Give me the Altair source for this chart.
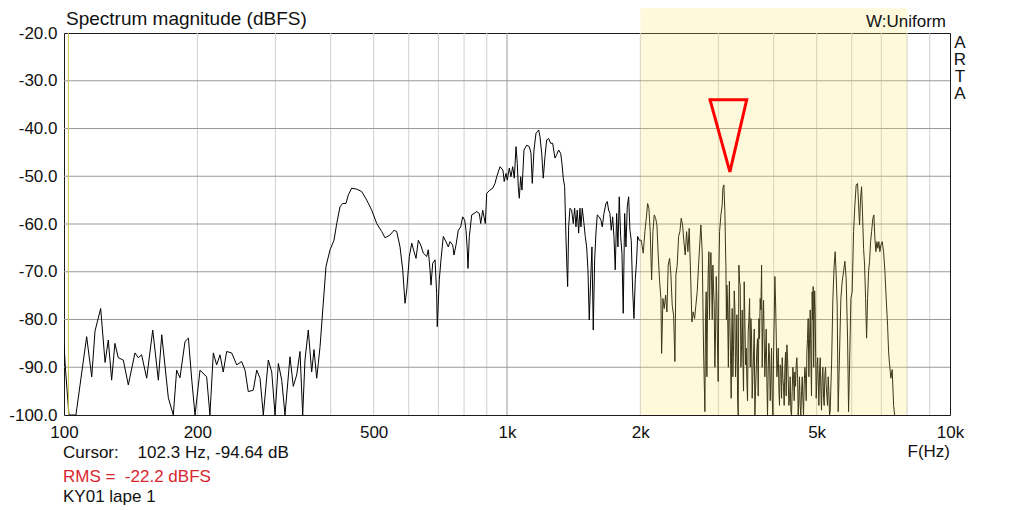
import altair as alt
import pandas as pd

# ---- spectrum values: (frequency Hz, level dBFS) ----
seg_low = [
    (100, -85.3), (100.8, -90.6), (102.6, -100), (106.4, -100), (112.5, -83.6), (115.5, -92.0),
    (117.5, -82.4), (121.0, -77.7), (123.8, -89.0), (125.9, -84.3), (128.1, -92.7), (130.3, -85.0),
    (132.6, -88.0), (136.1, -88.5), (139.7, -93.7), (144.6, -87.0), (147.1, -88.0), (149.7, -87.4),
    (153.7, -92.3), (158.6, -82.2), (163.3, -92.7), (166.2, -83.2), (172.0, -96.4), (176.5, -100),
    (179.6, -90.6), (182.7, -92.2), (187.6, -84.6), (190.9, -83.9), (194.3, -92.7), (197.6, -100),
    (202.8, -90.6), (209.9, -92.0), (213.5, -100), (217.3, -87.0), (221.1, -89.5), (225.0, -87.4),
    (228.8, -91.0), (232.9, -86.7), (239.0, -87.0), (245.4, -89.5), (251.8, -88.8), (256.2, -90.6),
    (260.6, -95.1), (267.5, -94.8), (272.3, -90.6), (277.0, -92.3), (281.8, -100), (289.2, -88.5),
    (294.4, -91.0), (299.5, -100), (304.7, -89.2), (310.1, -92.7), (315.4, -100), (323.7, -87.8),
    (329.3, -94.0), (335.2, -91.6), (341.0, -86.7), (345.8, -100), (349.9, -88.5), (356.0, -82.2),
    (362.3, -91.0), (366.7, -86.3), (371.9, -92.3), (375.0, -89.2), (378.4, -85.7), (390.3, -68.9),
]
seg_mid = [
    (398.6, -65.4), (406.9, -63.4), (412.7, -59.9), (419.8, -56.4), (425.7, -55.7), (433.1, -55.7),
    (438.3, -53.9), (446.1, -52.5), (457.8, -52.7), (469.9, -53.2), (482.3, -55.0), (495.0, -57.1),
    (508.1, -59.9), (521.5, -61.6), (530.5, -62.9), (544.5, -62.3), (555.9, -61.3), (563.8, -61.6),
    (573.5, -64.8), (581.6, -69.6), (588.6, -76.6), (593.9, -73.8), (601.9, -66.8), (609.5, -64.0),
    (616.8, -65.8), (623.2, -67.2), (630.7, -63.4), (638.6, -64.4), (647.3, -66.1), (658.8, -66.8),
    (664.3, -65.4), (670.2, -69.6), (673.7, -72.8), (679.7, -68.2), (688.0, -67.5), (693.8, -74.5),
    (696.0, -81.5), (703.3, -71.7), (709.5, -67.5), (718.1, -62.6), (728.2, -63.7), (737.0, -64.8),
    (743.6, -63.7), (754.1, -64.4), (759.2, -66.5), (767.1, -64.4), (776.4, -61.3), (786.1, -60.6),
    (794.3, -58.5), (802.6, -59.2), (808.1, -61.3), (813.5, -65.4), (816.5, -69.3), (822.1, -62.6),
    (832.4, -58.1), (842.4, -57.8), (854.3, -57.4), (866.0, -57.8), (872.3, -59.9), (881.4, -57.1),
    (887.4, -58.5), (893.4, -59.9), (899.9, -53.6), (912.1, -53.0), (928.4, -52.5), (939.6, -51.5),
    (947.9, -50.1), (955.8, -49.1), (964.3, -48.0),
]
seg_1k = [
    (979.0, -48.7), (985.6, -51.1), (994.8, -49.4), (1001.6, -50.8), (1012, -48.3), (1021, -50.1),
    (1030, -48.0), (1038.7, -50.4), (1048, -43.8), (1054.9, -47.3), (1060.4, -52.2), (1066, -54.6),
    (1073.8, -50.1), (1081, -52.9), (1092.3, -44.5), (1107.7, -43.5), (1122.8, -43.8), (1132.8, -45.2),
    (1140.4, -51.5), (1150.6, -44.5), (1162.6, -41.0), (1170.5, -40.7), (1179, -40.3), (1187, -41.7),
    (1197.6, -45.2), (1207.5, -50.4), (1218.2, -45.9), (1229, -42.4), (1241.8, -42.1), (1254.8, -43.1),
    (1267.9, -43.1), (1283.1, -46.2), (1294.5, -45.5), (1308, -44.5), (1321.7, -45.2), (1330.6, -47.3),
    (1339.6, -50.4), (1349.4, -52.2), (1353.6, -57.1), (1358.5, -62.7), (1363.5, -67.5), (1370.6, -73.1),
    (1377.7, -60.6), (1387.1, -56.7), (1399.4, -57.1), (1411.1, -59.9), (1421.4, -56.7), (1431, -60.6),
    (1440.7, -57.1), (1451.2, -61.9), (1461.1, -56.7), (1468.7, -60.6), (1478.7, -56.7), (1491.8, -59.9),
    (1501.9, -62.6), (1512.9, -64.8), (1523.1, -69.6), (1533.5, -80.1), (1544.7, -71.7), (1555.1, -64.8),
    (1565.7, -82.2), (1577.1, -67.5), (1587.8, -61.9), (1598.6, -58.1), (1615.3, -58.5), (1629.6, -59.2),
    (1640.7, -60.6), (1655.2, -57.8), (1672.5, -55.7), (1683.8, -55.3), (1696.1, -57.1), (1707.6, -57.8),
    (1719.2, -61.3), (1731.7, -58.5), (1743.5, -62.6), (1755.3, -69.6), (1768.1, -57.8), (1780.1, -64.8),
    (1792.2, -54.3), (1805.3, -62.6), (1817.5, -66.1), (1829.8, -78.7), (1843.2, -57.8), (1855.7, -64.8),
    (1868.3, -56.4), (1881.9, -54.3), (1894.6, -61.3), (1907.5, -63.4), (1921.4, -73.8), (1934.4, -79.8),
    (1947.5, -71.7), (1961.7, -67.5), (1972, -62.6), (1988.4, -63.4), (2009.2, -63.4), (2030.2, -66.1),
]
seg_high = [
    (2048, -61.6), (2066.2, -58.1), (2077, -55.7), (2091, -56.7), (2105.2, -61.6), (2120.6, -71.7),
    (2135, -61.6), (2149.5, -58.1), (2165.2, -58.8), (2179.8, -60.2), (2194.6, -66.5), (2210.6, -72.1),
    (2225.6, -75.6), (2233.7, -87.1), (2248.8, -75.6), (2264, -77.7), (2280.5, -74.9), (2296, -78.4),
    (2311.6, -68.6), (2328.4, -67.2), (2344.2, -70.7), (2360.1, -77.0), (2377.3, -79.1), (2393.4, -88.8),
    (2405.9, -70.7), (2422.2, -68.6), (2439.9, -62.6), (2456.4, -61.6), (2473.1, -58.8), (2491.1, -60.2),
    (2508, -63.7), (2525, -66.5), (2543.4, -61.6), (2560.6, -65.8), (2578, -60.9), (2596.8, -70.7),
    (2614.4, -80.5), (2632.1, -78.4), (2651.3, -79.8), (2669.3, -77.0), (2687.4, -74.2), (2707, -68.6),
    (2725.3, -63.7), (2739.5, -60.2), (2758.1, -65.8), (2778.3, -86.8), (2797.1, -99.3), (2816.1, -74.2),
    (2836.6, -77.0), (2855.8, -65.8), (2875.2, -68.6), (2896.2, -72.1), (2915.8, -68.6), (2935.6, -77.0),
    (2957, -82.6), (2977.1, -75.6), (2997.3, -93.0), (3019.2, -61.6), (3039.7, -58.1), (3060.3, -56.0),
    (3071.4, -52.5), (3087.4, -51.8), (3103.5, -57.4), (3119.7, -68.6), (3135.9, -72.8), (3152.3, -82.6),
    (3168.7, -78.4), (3185.3, -80.5), (3206.9, -96.5), (3223.6, -77.7), (3247.1, -85.3), (3269.1, -77.7),
    (3291.3, -86.8), (3315.3, -96.5), (3337.8, -68.6), (3360.4, -72.8), (3385, -85.3), (3407.9, -88.1),
    (3431, -72.1), (3456, -89.5), (3479.5, -93.0), (3503, -82.6), (3528.6, -75.6), (3552.5, -79.8),
    (3576.6, -96.5), (3602.7, -86.8), (3627.1, -100), (3651.7, -91.0), (3678.4, -84.0), (3703.3, -79.8),
    (3728.5, -75.6), (3755.7, -68.6), (3781.1, -81.2), (3806.8, -84.0), (3834.6, -86.8), (3860.5, -93.0),
    (3886.7, -91.0), (3915.1, -88.1), (3941.6, -92.3), (3968.4, -96.5), (3997.3, -86.8), (4024.4, -71.0),
    (4051.7, -82.6), (4081.3, -89.5), (4109, -94.6), (4136.8, -89.5), (4167, -96.5), (4195.3, -92.3),
    (4223.7, -98.0), (4254.5, -86.8), (4283.4, -85.3), (4312.4, -92.3), (4343.9, -96.5), (4373.4, -99.3),
    (4403, -95.1), (4435.2, -92.3), (4465.3, -91.0), (4495.5, -89.5), (4528.3, -92.3), (4559, -96.5),
    (4589.9, -98.0), (4623.4, -95.1), (4654.8, -96.5), (4686.3, -93.7), (4720.5, -92.3), (4752.5, -86.8),
    (4784.7, -79.8), (4819.7, -84.0), (4852.4, -88.1), (4885.3, -74.2), (4910.7, -73.1), (4936.3, -79.8),
    (4962, -78.4), (4987.9, -96.5), (5013.9, -89.5), (5040, -92.3), (5076.8, -91.0), (5111.2, -95.1),
    (5145.8, -92.3), (5183.4, -96.5), (5218.6, -91.6), (5254, -93.7), (5292.3, -98.0), (5328.2, -95.1),
    (5364.3, -99.3), (5403.5, -89.5), (5440.2, -75.6), (5477, -68.6), (5505.5, -65.8), (5534.2, -70.7),
    (5563.1, -77.0), (5592.1, -99.3), (5632.9, -86.8), (5671.1, -75.6), (5709.5, -72.1), (5751.2, -69.9),
    (5790.2, -67.8), (5829.4, -71.4), (5872, -83.9), (5902.6, -99.3), (5933.4, -89.5), (5973.7, -75.6),
    (6014.2, -74.2), (6058.1, -61.6), (6099.2, -56.0), (6140.6, -51.8), (6185.4, -51.5), (6217.6, -56.0),
    (6250, -60.2), (6282.6, -54.6), (6315.4, -52.2), (6348.3, -58.1), (6381.4, -65.1), (6414.7, -68.6),
    (6448.2, -75.6), (6481.8, -83.9), (6515.6, -75.6), (6549.6, -69.9), (6583.8, -67.8), (6618.1, -63.7),
    (6652.6, -61.6), (6697.6, -58.8), (6732.6, -58.1), (6767.7, -63.0), (6803, -65.8), (6838.5, -63.7),
    (6874.2, -65.1), (6910, -63.7), (6946.1, -65.8), (6982.3, -64.4), (7029.7, -63.7), (7081, -65.8),
    (7129.1, -69.9), (7177.4, -75.6), (7229.8, -81.2), (7267.5, -86.8), (7305.4, -89.5), (7354.9, -92.3),
    (7404.8, -90.5), (7458.9, -98.0), (7497.8, -100),
]
# extra strokes read in the densest part of the band (2.8k - 5.4k)
seg_dense = [
    (2806, -80), (2826, -92), (2846, -70), (2865, -80), (2886, -66), (2906, -80), (2925, -73),
    (2946, -90), (2967, -71), (2987, -86), (3008, -70), (3112, -64), (3128, -80), (3144, -75),
    (3160, -90), (3177, -72), (3196, -88), (3215, -84), (3235, -92), (3258, -74), (3280, -92),
    (3303, -79), (3326, -100), (3349, -72), (3373, -90), (3396, -78), (3419, -95), (3443, -80),
    (3467, -86), (3491, -97), (3516, -80), (3540, -90), (3564, -83), (3589, -92), (3615, -82),
    (3639, -95), (3665, -86), (3690, -96), (3716, -84), (3742, -78), (3768, -90), (3794, -76),
    (3820, -92), (3847, -82), (3873, -100), (3900, -85), (3928, -97), (3955, -86), (3983, -100),
    (4010, -80), (4038, -76), (4066, -92), (4095, -86), (4122, -98), (4152, -90), (4181, -88),
    (4209, -94), (4239, -90), (4268, -96), (4298, -88), (4328, -98), (4358, -92), (4388, -100),
    (4419, -90), (4450, -97), (4480, -94), (4512, -88), (4543, -100), (4574, -92), (4606, -100),
    (4639, -92), (4670, -100), (4703, -90), (4736, -97), (4768, -84), (4802, -92), (4836, -78),
    (4868, -96), (4898, -80), (4923, -90), (4949, -74), (4975, -88), (5000, -94), (5027, -88),
    (5058, -98), (5094, -88), (5128, -99), (5164, -90), (5200, -98), (5236, -90), (5273, -96),
    (5310, -92), (5346, -100), (5384, -94),
]

grid_minor = [200, 300, 400, 500, 600, 700, 800, 900, 2000, 3000, 4000, 5000, 6000, 7000, 8000, 9000]
grid_decade = [1000]
grid_db = [-30, -40, -50, -60, -70, -80, -90]
y_ticks = [-20, -30, -40, -50, -60, -70, -80, -90, -100]
x_ticks = [100, 200, 500, 1000, 2000, 5000, 10000]
band_f = (2000, 8000)
band_db = (-100, -14.8)
cursor_f = [102.3]
marker_f = [2873, 3476, 3185, 2873]
marker_db = [-34.0, -34.0, -49.1, -34.0]

FONT = "Liberation Sans"
TXT = "#111111"

pts = sorted(seg_low + seg_mid + seg_1k + seg_high + seg_dense)
spec = pd.DataFrame({"f": [p[0] for p in pts], "db": [p[1] for p in pts]})

xs = alt.Scale(type="log", domain=[100, 10000], nice=False)
ys = alt.Scale(domain=[-100, -20], nice=False, zero=False)
xaxis = alt.Axis(values=x_ticks, grid=False, ticks=False, domain=False, labelPadding=9,
                 labelFlush=False, title="",
                 labelExpr="datum.value >= 1000 ? (datum.value/1000) + 'k' : '' + datum.value")
yaxis = alt.Axis(values=y_ticks, grid=False, ticks=False, domain=False, labelPadding=7,
                 labelFlush=False, title="", labelExpr="datum.value + '.0'")


def X(field):
    return alt.X(field, scale=xs, axis=xaxis)


def Y(field):
    return alt.Y(field, scale=ys, axis=yaxis)


vgrid = alt.Chart(pd.DataFrame({"f": grid_minor})).mark_rule(color="#cfcfcf", strokeWidth=1).encode(
    x=X("f:Q"))
vgrid_dec = alt.Chart(pd.DataFrame({"f": grid_decade})).mark_rule(color="#999999", strokeWidth=1).encode(
    x=X("f:Q"))
hgrid = alt.Chart(pd.DataFrame({"db": grid_db})).mark_rule(color="#9a9a9a", strokeWidth=1).encode(
    y=Y("db:Q"))

line = alt.Chart(spec).mark_line(color="#000000", strokeWidth=1, clip=True).encode(
    x=X("f:Q"), y=Y("db:Q"))

cursor = alt.Chart(pd.DataFrame({"f": cursor_f})).mark_rule(color="#c8c848", strokeWidth=1).encode(
    x=X("f:Q"))

band = alt.Chart(pd.DataFrame({"f1": [band_f[0]], "f2": [band_f[1]],
                               "d1": [band_db[0]], "d2": [band_db[1]]})).mark_rect(
    color="rgb(251,230,102)", opacity=0.235).encode(
    x=X("f1:Q"), x2="f2:Q", y=Y("d1:Q"), y2="d2:Q")

marker = alt.Chart(pd.DataFrame({"f": marker_f, "db": marker_db, "k": [0, 1, 2, 3]})).mark_line(
    color="#ff0000", strokeWidth=3, strokeJoin="miter", strokeCap="square").encode(
    x=X("f:Q"), y=Y("db:Q"), order="k:Q")

one = pd.DataFrame({"t": [0]})


def label(text, x, y, align="left", size=17, color=TXT, **kw):
    return alt.Chart(one).mark_text(align=align, baseline="alphabetic", font=FONT, fontSize=size,
                                    color=color, **kw).encode(
        x=alt.value(x), y=alt.value(y), text=alt.value(text))


texts = [
    label("Spectrum magnitude (dBFS)", 2, -8, size=19),
    label("W:Uniform", 882, -6, align="right"),
    label("A\nR\nT\nA", 896, 15, align="center", lineBreak="\n", lineHeight=17),
    label("F(Hz)", 886, 424, align="right"),
    label("Cursor:\u00a0\u00a0\u00a0 102.3 Hz, -94.64 dB", -1, 425),
    label("RMS =\u00a0 -22.2 dBFS", -1, 448.5, color="#d9262e"),
    label("KY01 lape 1", -1, 468.5),
]

chart = alt.layer(vgrid, vgrid_dec, hgrid, line, cursor, band, marker, *texts).properties(
    width=886, height=382, autosize="none",
    padding={"left": 64, "top": 33, "right": 86, "bottom": 95},
    background="#ffffff",
).configure_view(stroke="#1a1a1a", strokeWidth=1).configure_axis(
    labelFont=FONT, labelFontSize=17, labelColor=TXT)

chart.save("out.html", embed_options={"renderer": "svg", "actions": False})
